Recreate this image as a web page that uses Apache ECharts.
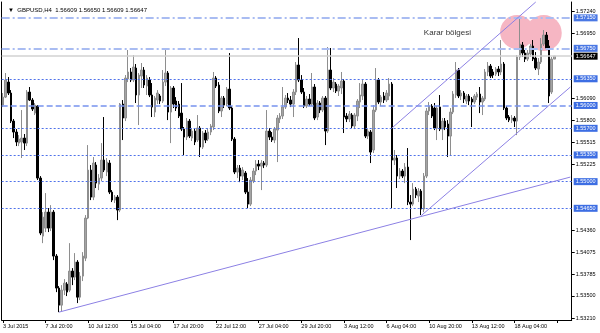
<!DOCTYPE html>
<html><head><meta charset="utf-8">
<script src="https://cdn.jsdelivr.net/npm/echarts@6/dist/echarts.min.js"></script>
<style>html,body{margin:0;padding:0;background:#fff}#c{width:600px;height:333px}</style>
</head><body><div id="c"></div>
<script>
const openPrices=[1.56005,1.56110,1.56307,1.56163,1.55795,1.55651,1.55506,1.55520,1.55572,1.55506,1.56176,1.56071,1.55900,1.55992,1.55047,1.54285,1.54390,1.54600,1.54390,1.54600,1.54023,1.53603,1.53379,1.53576,1.53655,1.53576,1.53826,1.53747,1.53944,1.53484,1.53760,1.53996,1.54522,1.55152,1.54797,1.55218,1.54968,1.55047,1.55283,1.55126,1.55244,1.54863,1.54758,1.54797,1.54627,1.56018,1.55835,1.56347,1.56439,1.56334,1.56491,1.56137,1.56386,1.56465,1.56255,1.56334,1.56137,1.55913,1.56071,1.56124,1.56058,1.56307,1.56426,1.55913,1.56229,1.56058,1.56018,1.55900,1.55690,1.55585,1.55795,1.55572,1.55664,1.55546,1.55703,1.55454,1.55638,1.55559,1.55651,1.55717,1.56360,1.56268,1.55927,1.56097,1.56018,1.56215,1.55966,1.55559,1.55126,1.55178,1.55073,1.55113,1.54863,1.54705,1.55007,1.55139,1.55231,1.55204,1.55244,1.55218,1.55664,1.55585,1.55546,1.55677,1.55822,1.55861,1.55979,1.56097,1.56071,1.56018,1.56176,1.56531,1.56334,1.56176,1.55992,1.56084,1.56018,1.56242,1.55848,1.56032,1.55940,1.56097,1.55664,1.56465,1.56229,1.56281,1.56189,1.56229,1.56320,1.55861,1.55822,1.55874,1.55730,1.55861,1.56045,1.56124,1.56281,1.55598,1.55651,1.55415,1.55940,1.56334,1.56045,1.56124,1.56071,1.56124,1.56281,1.55283,1.55310,1.55073,1.55139,1.55073,1.55191,1.54732,1.54705,1.54902,1.54811,1.54876,1.54640,1.55073,1.55927,1.55992,1.55966,1.55703,1.55979,1.55690,1.55795,1.55756,1.55598,1.55913,1.56137,1.56465,1.56124,1.56163,1.56058,1.56124,1.56084,1.56045,1.56110,1.56150,1.56045,1.56084,1.56439,1.56517,1.56439,1.56412,1.56478,1.56439,1.56544,1.55966,1.55848,1.55808,1.55835,1.55795,1.56636,1.56793,1.56688,1.56609,1.56675,1.56780,1.56622,1.56478,1.56570,1.56806,1.56924,1.56780,1.56176,1.56609];
const closePrices=[1.56110,1.56334,1.56163,1.55795,1.55651,1.55520,1.55559,1.55572,1.55506,1.56176,1.56071,1.55953,1.56005,1.55047,1.54325,1.54535,1.54600,1.54390,1.54600,1.54023,1.53603,1.53379,1.53576,1.53668,1.53550,1.53826,1.53747,1.53944,1.53484,1.53760,1.54023,1.54522,1.55152,1.54797,1.55244,1.54981,1.55047,1.55283,1.55152,1.55257,1.54863,1.54758,1.54797,1.54627,1.56018,1.55835,1.56360,1.56439,1.56334,1.56504,1.56137,1.56399,1.56465,1.56268,1.56360,1.56137,1.55979,1.56097,1.56163,1.56058,1.56307,1.56426,1.55913,1.56229,1.56018,1.55966,1.55861,1.55690,1.55585,1.55795,1.55598,1.55664,1.55520,1.55703,1.55454,1.55638,1.55546,1.55651,1.55730,1.56360,1.56255,1.55927,1.56097,1.56005,1.56215,1.55966,1.55559,1.55126,1.55178,1.55073,1.55152,1.54863,1.54705,1.55021,1.55139,1.55231,1.55204,1.55244,1.55218,1.55664,1.55585,1.55546,1.55690,1.55835,1.55861,1.55979,1.56097,1.56071,1.56018,1.56176,1.56531,1.56334,1.56176,1.55992,1.56084,1.56018,1.56242,1.55835,1.56032,1.55940,1.56097,1.55664,1.56465,1.56229,1.56307,1.56189,1.56255,1.56320,1.55848,1.55822,1.55887,1.55730,1.55874,1.56058,1.56137,1.56281,1.55598,1.55664,1.55388,1.55940,1.56334,1.56045,1.56110,1.56071,1.56163,1.56281,1.55283,1.55310,1.55073,1.55139,1.55073,1.55191,1.54732,1.54705,1.54902,1.54824,1.54876,1.54640,1.55073,1.55927,1.55992,1.55861,1.55703,1.55966,1.55690,1.55795,1.55717,1.55598,1.55913,1.56150,1.56465,1.56124,1.56163,1.56084,1.56124,1.56058,1.56045,1.56124,1.56150,1.56045,1.56097,1.56439,1.56517,1.56386,1.56399,1.56478,1.56439,1.56544,1.55966,1.55835,1.55808,1.55835,1.55795,1.56636,1.56806,1.56688,1.56609,1.56688,1.56780,1.56609,1.56491,1.56570,1.56806,1.56924,1.56754,1.56124,1.56609,1.56647];
const lowPrices=[1.55979,1.56097,1.56137,1.55769,1.55572,1.55467,1.55467,1.55310,1.55415,1.55467,1.56058,1.55927,1.55874,1.55021,1.54298,1.54193,1.54338,1.54338,1.54351,1.53970,1.53550,1.53287,1.53301,1.53511,1.53498,1.53550,1.53642,1.53708,1.53406,1.53445,1.53695,1.53957,1.54508,1.54758,1.54758,1.54916,1.54889,1.55007,1.55126,1.55073,1.54837,1.54732,1.54719,1.54495,1.54600,1.55546,1.55795,1.56307,1.56307,1.56307,1.56032,1.55743,1.56229,1.56229,1.56137,1.56110,1.55848,1.55848,1.56018,1.56018,1.56032,1.56255,1.55808,1.55506,1.55966,1.55927,1.55835,1.55664,1.55349,1.55546,1.55572,1.55533,1.55480,1.55520,1.55323,1.55428,1.55506,1.55533,1.55611,1.55677,1.56229,1.55900,1.55848,1.55966,1.55992,1.55940,1.55533,1.55099,1.55047,1.54994,1.55021,1.54837,1.54653,1.54679,1.54981,1.55086,1.55152,1.54889,1.55178,1.55191,1.55546,1.55520,1.55506,1.55257,1.55769,1.55822,1.55953,1.56032,1.55979,1.55848,1.56137,1.56307,1.56150,1.55966,1.55966,1.55992,1.55992,1.55808,1.55808,1.55900,1.55913,1.55480,1.55638,1.56202,1.56176,1.56163,1.56124,1.56150,1.55638,1.55782,1.55782,1.55703,1.55690,1.55795,1.55966,1.56071,1.55572,1.55559,1.55244,1.55375,1.55913,1.56018,1.55992,1.56032,1.56045,1.56071,1.54653,1.55218,1.54916,1.55034,1.55047,1.54981,1.54692,1.54233,1.54679,1.54784,1.54732,1.54561,1.54600,1.55047,1.55874,1.55835,1.55677,1.55546,1.55664,1.55546,1.55677,1.55323,1.55349,1.55887,1.56097,1.56097,1.56071,1.56032,1.56018,1.56005,1.55717,1.56018,1.56071,1.55900,1.55874,1.56058,1.56386,1.56360,1.56360,1.56386,1.56386,1.56399,1.55940,1.55808,1.55782,1.55769,1.55717,1.55611,1.56596,1.56636,1.56570,1.56583,1.56636,1.56583,1.56465,1.56399,1.56544,1.56780,1.56728,1.56032,1.56150,1.56609];
const highPrices=[1.56163,1.56426,1.56373,1.56202,1.55822,1.55690,1.55611,1.55940,1.55625,1.56202,1.56242,1.56097,1.56032,1.56005,1.55073,1.54600,1.54850,1.54653,1.54692,1.54627,1.54049,1.53629,1.53642,1.53721,1.53681,1.54193,1.53865,1.54062,1.53970,1.53813,1.54075,1.54561,1.55480,1.55218,1.55323,1.55257,1.55099,1.55506,1.55848,1.55310,1.55283,1.54889,1.54824,1.54824,1.56032,1.56071,1.56399,1.56728,1.56491,1.56662,1.56544,1.56426,1.56557,1.56504,1.56399,1.56373,1.56294,1.56124,1.56202,1.56150,1.56465,1.56728,1.56452,1.56255,1.56255,1.56110,1.56058,1.56294,1.55717,1.55835,1.55822,1.55703,1.55703,1.55874,1.55730,1.55664,1.55677,1.55703,1.55756,1.56439,1.56386,1.56307,1.56124,1.56124,1.56242,1.56688,1.55992,1.55585,1.55218,1.55218,1.55191,1.55139,1.55047,1.55060,1.55178,1.55283,1.55283,1.55283,1.55270,1.55940,1.55703,1.55651,1.55717,1.55874,1.55900,1.56242,1.56137,1.56163,1.56124,1.56215,1.56570,1.56885,1.56399,1.56229,1.56124,1.56150,1.56426,1.56281,1.56071,1.56058,1.56124,1.56124,1.56767,1.56754,1.56360,1.56307,1.56281,1.56439,1.56347,1.55900,1.55927,1.55900,1.55900,1.56084,1.56294,1.56334,1.56307,1.55690,1.55677,1.56005,1.56491,1.56360,1.56137,1.56176,1.56202,1.56360,1.56307,1.55415,1.55349,1.55178,1.55165,1.55244,1.55441,1.54824,1.54981,1.54929,1.54916,1.54902,1.55113,1.55966,1.56045,1.56018,1.56032,1.55992,1.56137,1.55835,1.55835,1.55808,1.55966,1.56189,1.56570,1.56491,1.56202,1.56189,1.56150,1.56150,1.56110,1.56150,1.56176,1.56242,1.56124,1.56478,1.56570,1.56544,1.56478,1.56504,1.56517,1.56859,1.56570,1.55992,1.55874,1.55874,1.55861,1.56662,1.57161,1.56833,1.56728,1.56728,1.56806,1.56859,1.56701,1.56622,1.56885,1.56990,1.56964,1.56859,1.56636,1.56650];
const dateTickLabels=["3 Jul 2015","7 Jul 20:00","10 Jul 12:00","15 Jul 04:00","17 Jul 20:00","22 Jul 12:00","27 Jul 04:00","29 Jul 20:00","3 Aug 12:00","6 Aug 04:00","10 Aug 20:00","13 Aug 12:00","18 Aug 04:00"];
const barsPerDateTick=16;
const slotCount=214;
const priceTickLabels=[1.53210,1.53500,1.53785,1.54075,1.54360,1.55225,1.55515,1.55800,1.56090,1.56950,1.57240];
const dashDotLevels=[1.57150,1.56750];
const dashedLevels=[1.56000];
const dottedLevels=[1.56350,1.55700,1.55350,1.55000,1.54650];
const lastPrice=1.56647;
const trendLines=[[[21,1.53287],[213,1.55060]],[[146,1.55703],[200,1.57358]],[[157,1.54554],[213,1.56242]]];
const zoneCircles=[[193,1.56964],[203,1.56951]];
const zoneLabel={text:"Karar bölgesi",at:[158,1.56951]};
const yMin=1.53184,yMax=1.57358;

const categories=Array.from({length:slotCount},(_,i)=>String(i));
const ohlc=openPrices.map((o,i)=>[o,closePrices[i],lowPrices[i],highPrices[i]]);
const FONT='"Liberation Sans", Arial, sans-serif';
const boxLabel=(bg)=>({show:true,position:'end',distance:2,formatter:p=>Number(p.value).toFixed(5),backgroundColor:bg,color:'#fff',padding:[1,2,0,2],fontSize:5.5,fontFamily:FONT});
const levelLines=[];
dashDotLevels.forEach(v=>levelLines.push({yAxis:v,lineStyle:{type:[8,3,2,3],color:'#a9bcf2',width:2},label:boxLabel('#4a78e4')}));
dashedLevels.forEach(v=>levelLines.push({yAxis:v,lineStyle:{type:[6,3],color:'#7792ee',width:1.5},label:boxLabel('#3d6ee3')}));
dottedLevels.forEach(v=>levelLines.push({yAxis:v,lineStyle:{type:[2,2],color:'#4f72ea',width:1},label:boxLabel('#3d6ee3')}));
levelLines.push({yAxis:lastPrice,lineStyle:{type:'solid',color:'#d2d2d2',width:1.5},label:boxLabel('#000')});
trendLines.forEach(t=>levelLines.push([{coord:t[0],lineStyle:{type:'solid',color:'#8c80e4',width:1},label:{show:false}},{coord:t[1]}]));

const chart=echarts.init(document.getElementById('c'),null,{renderer:'canvas'});
chart.setOption({
  animation:false,
  backgroundColor:'transparent',
  title:{text:'▼  GBPUSD,H4  1.56609 1.56650 1.56609 1.56647',left:3,top:2,textStyle:{fontSize:6,fontWeight:'normal',color:'#000',fontFamily:FONT}},
  grid:{left:1.5,right:28.3,top:2,bottom:13,containLabel:false},
  xAxis:{type:'category',data:categories,boundaryGap:true,
    axisLine:{lineStyle:{color:'#000',width:1}},
    axisTick:{show:true,alignWithLabel:true,interval:(i)=>i%barsPerDateTick===0,length:3,lineStyle:{color:'#000'}},
    axisLabel:{interval:(i)=>i%barsPerDateTick===0,formatter:(v,i)=>dateTickLabels[i/barsPerDateTick]||'',align:'left',margin:3,fontSize:5.5,color:'#000',fontFamily:FONT},
    splitLine:{show:false}},
  yAxis:[{type:'value',position:'right',min:yMin,max:yMax,
    axisLine:{show:true,lineStyle:{color:'#000',width:1}},
    axisTick:{show:true,length:3,customValues:priceTickLabels,lineStyle:{color:'#000'}},
    axisLabel:{customValues:priceTickLabels,formatter:v=>Number(v).toFixed(5),fontSize:5.5,margin:4,color:'#000',fontFamily:FONT},
    splitLine:{show:false}},
   {type:'value',position:'left',min:yMin,max:yMax,axisLine:{show:true,lineStyle:{color:'#000'}},axisTick:{show:false},axisLabel:{show:false},splitLine:{show:false}}],
  series:[
    {type:'custom',z:-1,silent:true,clip:false,data:zoneCircles,
     renderItem:(params,api)=>{const p=api.coord([api.value(0),api.value(1)]);const r=[17,18][params.dataIndex];
       return {type:'circle',shape:{cx:p[0],cy:p[1],r:r},style:{fill:'#f6b6c3',blend:'xor'}};}},
    {type:'candlestick',data:ohlc,barWidth:2,z:3,
     itemStyle:{color:'#a4a4a4',color0:'#000',borderColor:'#8e8e8e',borderColor0:'#000',borderWidth:1},
     markLine:{silent:true,precision:5,symbol:['none','none'],animation:false,data:levelLines},
     markPoint:{silent:true,symbol:'circle',symbolSize:0,data:[{coord:zoneLabel.at,label:{show:true,position:'right',distance:0,formatter:zoneLabel.text,color:'#333',fontSize:8,fontFamily:FONT}}]}}
  ]
});
</script></body></html>
